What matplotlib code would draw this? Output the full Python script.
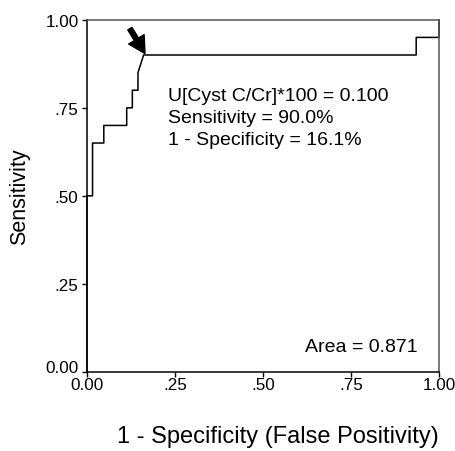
import matplotlib
matplotlib.use('Agg')
from matplotlib import pyplot as plt
from matplotlib.transforms import ScaledTranslation

plt.rcParams['font.family'] = ['Liberation Sans', 'DejaVu Sans']

# ROC curve points
fpr = [0, 0, 0.016, 0.016, 0.048, 0.048, 0.113, 0.113, 0.129, 0.129,
       0.145, 0.145, 0.161, 0.935, 0.935, 1.0, 1.0]
tpr = [0, 0.50, 0.50, 0.65, 0.65, 0.70, 0.70, 0.75, 0.75, 0.80,
       0.80, 0.85, 0.90, 0.90, 0.95, 0.95, 1.0]
cutoff = (0.161, 0.90)
ticks = [0, 0.25, 0.5, 0.75, 1.0]
tick_labels = ['0.00', '.25', '.50', '.75', '1.00']
info = ['U[Cyst C/Cr]*100 = 0.100', 'Sensitivity = 90.0%', '1 - Specificity = 16.1%']
area = 'Area = 0.871'

fig = plt.figure(figsize=(4.55, 4.52), dpi=100)
ax = fig.add_axes([0.191, 0.175, 0.774, 0.779])
ax.plot(fpr, tpr, color='black', lw=1.1, clip_on=False)
ax.set_xlim(0, 1)
ax.set_ylim(0, 1)
ax.set_xticks(ticks)
ax.set_xticklabels(tick_labels)
ax.set_yticks(ticks)
ax.set_yticklabels(tick_labels)
ax.tick_params(direction='out', length=3.5, width=1, labelsize=12.3,
               colors='black')
ax.tick_params(axis='x', pad=0.5)
ax.tick_params(axis='y', pad=2.5)
# the 0.00 label on the y axis sits a little above its tick
lab0 = ax.get_yticklabels()[0]
lab0.set_transform(lab0.get_transform() + ScaledTranslation(0, 6 / 100, fig.dpi_scale_trans))
for s in ax.spines.values():
    s.set_linewidth(1.1)
for s in ['top', 'right']:
    ax.spines[s].set_color('#555555')

ax.annotate('', xy=(cutoff[0] + 0.004, cutoff[1] + 0.004), xytext=(0.122, 0.975),
            arrowprops=dict(facecolor='black', edgecolor='black', width=3.5,
                            headwidth=13, headlength=12, shrink=0))
for i, line in enumerate(info):
    ax.text(0.23, 0.771 - i * 0.0625, line, fontsize=14, ha='left',
            va='baseline')
ax.text(0.938, 0.060, area, fontsize=14, ha='right', va='baseline')

fig.text(0.043, 0.565, 'Sensitivity', rotation=90, fontsize=15.5,
         ha='center', va='center')
fig.text(0.61, 0.033, '1 - Specificity (False Positivity)', fontsize=17,
         ha='center', va='center')

fig.savefig('out.png', dpi=100)
